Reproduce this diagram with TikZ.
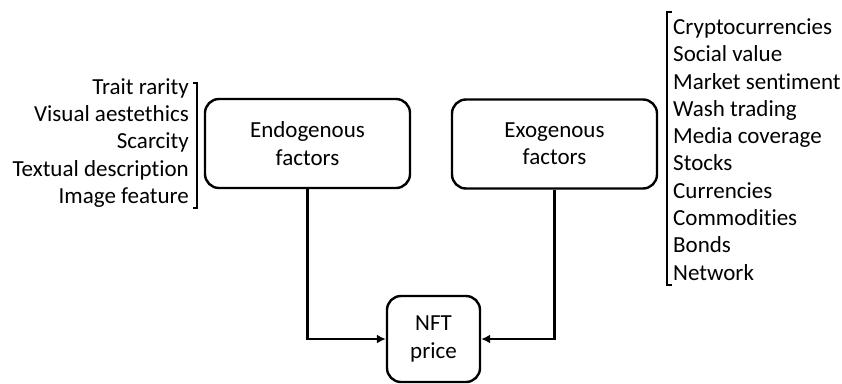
\documentclass[tikz,border=0pt]{standalone}
\usepackage{fontspec}
\setmainfont[RawFeature=-liga]{Carlito}
\usetikzlibrary{arrows.meta}
\tikzstyle{factor}=[draw=black,line width=2.4pt,rounded corners=14pt,align=center,inner sep=0pt,minimum width=205pt,minimum height=89pt]
\tikzstyle{result}=[draw=black,line width=2.4pt,rounded corners=14pt,align=center,inner sep=0pt,minimum width=93pt,minimum height=86pt]
\tikzstyle{items}=[inner sep=0pt]
\tikzstyle{link}=[line width=2.4pt,-{Latex[length=9pt,width=9pt]}]
\tikzstyle{brace}=[line width=1.8pt]

\begin{document}
\begin{tikzpicture}[x=1pt,y=-1pt,font=\fontsize{23}{27.3}\selectfont]
			\useasboundingbox (0,0) rectangle (842,383);
			\node (endo) at (307.5,143.5) [factor] {Endogenous\\factors};
			\node (exo) at (554.5,144) [factor] {Exogenous\\factors};
			\node (nft) at (433.5,339) [result] {NFT\\price};
			
			\node (inner) at (189,143) [items,anchor=east,align=right] {Trait rarity\\Visual aestethics\\Scarcity\\Textual description\\Image feature};
			\node (outer) at (673,149.5) [items,anchor=west,align=left] {Cryptocurrencies\\Social value\\Market sentiment\\Wash trading\\Media coverage\\Stocks\\Currencies\\Commodities\\Bonds\\Network};
			
			\draw [link] (endo.south) |- (nft.west);
			\draw [link] (exo.south) |- (nft.east);
			
			\draw [brace] (193,83)--(197,83)--(197,208)--(193,208);
			\draw [brace] (672,12)--(667,12)--(667,285)--(672,285);
		\end{tikzpicture}
\end{document}
